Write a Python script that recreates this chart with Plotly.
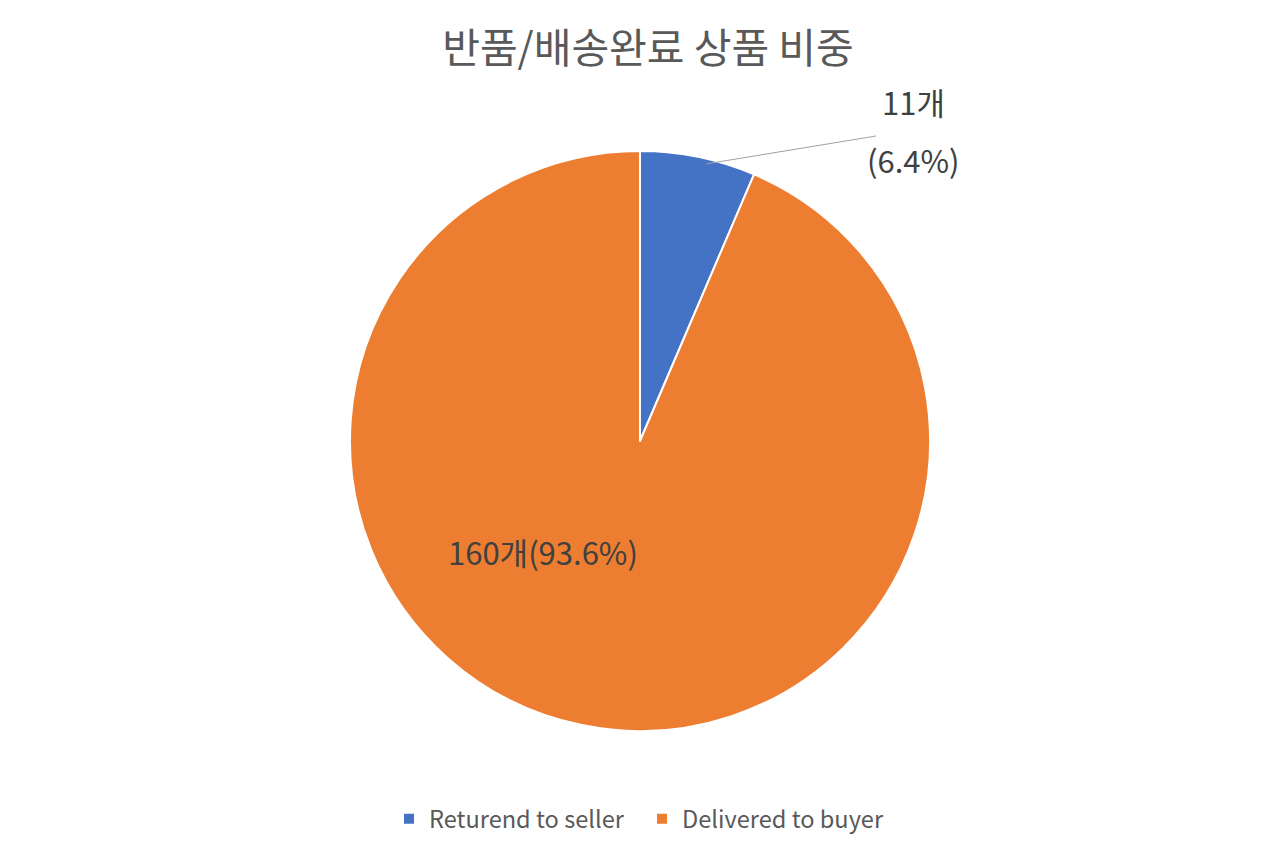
import math
import plotly.graph_objects as go

labels = ["Returend to seller", "Delivered to buyer"]
values = [11, 160]
colors = ["#4472C4", "#ED7D31"]
title_text = "반품/배송완료 상품 비중"
unit = "개"

W, H = 1280, 853
cx, cy, R = 640, 440, 290
# plotly renders the pie slightly offset from its nominal domain; compensate
dx, dy = -8, -7

total = sum(values)
pcts = [v / total * 100 for v in values]

fig = go.Figure(go.Pie(
    labels=labels, values=values, sort=False, direction="clockwise", rotation=0,
    marker=dict(colors=colors, line=dict(color="white", width=2)),
    textinfo="none", hoverinfo="label+value+percent",
    domain=dict(x=[(cx + dx - R) / W, (cx + dx + R) / W],
                y=[1 - (cy + dy + R) / H, 1 - (cy + dy - R) / H]),
))

font = "Noto Sans CJK KR, Malgun Gothic, sans-serif"
mid = pcts[0] / 100 * 360 / 2
tipx = cx + R * math.sin(math.radians(mid))
tipy = cy - R * math.cos(math.radians(mid))
fig.add_shape(type="line", xref="paper", yref="paper",
              x0=tipx / W, y0=1 - tipy / H, x1=868 / W, y1=1 - 128 / H,
              line=dict(color="#A0A0A0", width=1))

ann = [
    dict(x=905 / W, y=1 - 94 / H, text=f"{values[0]}{unit}"),
    dict(x=905 / W, y=1 - 151 / H, text=f"({pcts[0]:.1f}%)"),
    dict(x=535 / W, y=1 - 543 / H, text=f"{values[1]}{unit}({pcts[1]:.1f}%)"),
]
for a in ann:
    fig.add_annotation(xref="paper", yref="paper", xanchor="center", yanchor="middle",
                       showarrow=False, font=dict(family=font, size=31, color="#404040"), **a)

fig.update_layout(
    width=W, height=H, margin=dict(l=0, r=0, t=0, b=0),
    paper_bgcolor="white", plot_bgcolor="white",
    title=dict(text=title_text, x=0.5, xanchor="center", y=1 - 41 / H, yanchor="middle",
               font=dict(family=font, size=41, color="#595959")),
    legend=dict(orientation="h", x=(640 - 6) / W, xanchor="center", y=1 - 811 / H, yanchor="middle",
                font=dict(family=font, size=23.6, color="#595959"), itemwidth=30,
                entrywidth=208, entrywidthmode="pixels"),
    showlegend=True,
)
fig.write_html("out.html")
